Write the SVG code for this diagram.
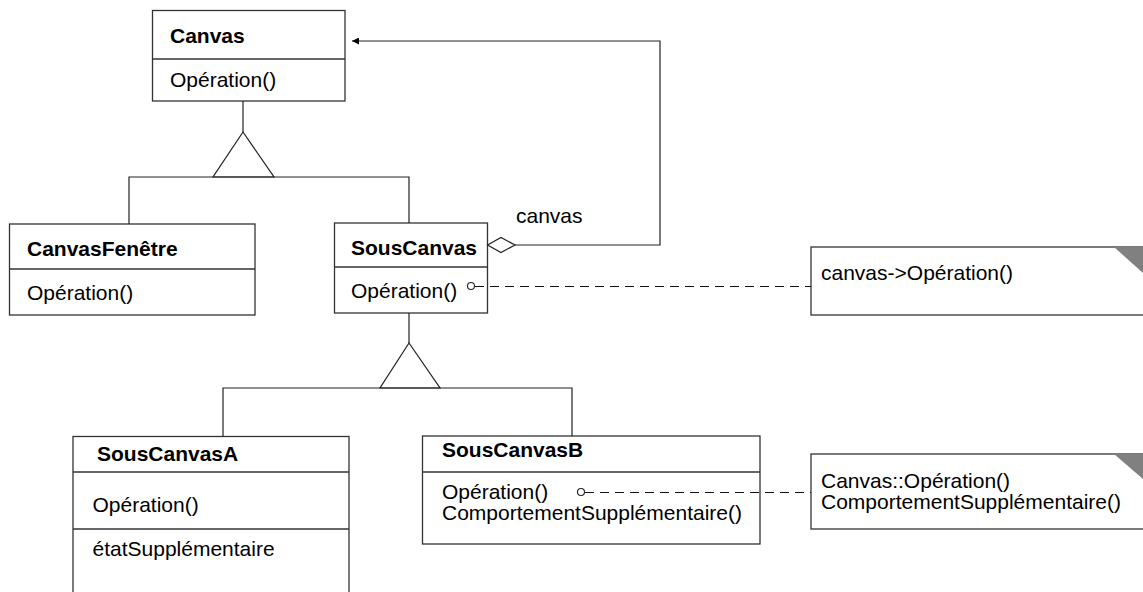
<svg xmlns="http://www.w3.org/2000/svg" width="1143" height="592" viewBox="0 0 1143 592">
<style>
.box{fill:#fff;stroke:#333;stroke-width:1.3}
.ln{fill:none;stroke:#222;stroke-width:1.2}
.dash{fill:none;stroke:#111;stroke-width:1.1;stroke-dasharray:9,6}
.tri{fill:#fff;stroke:#222;stroke-width:1.2}
.circ{fill:#fff;stroke:#222;stroke-width:1.1}
.fold{fill:#808080;stroke:none}
text{font-family:"Liberation Sans",Arial,sans-serif;font-size:21px;fill:#000}
.b{font-weight:bold}
</style>
<defs>
<marker id="arr" markerWidth="8" markerHeight="7" refX="7" refY="3.5" orient="auto" markerUnits="userSpaceOnUse">
<path d="M0,0 L7,3.5 L0,7 Z" fill="#000"/>
</marker>
</defs>
<rect width="1143" height="592" fill="#fff"/>

<g id="Canvas">
<rect class="box" x="152.5" y="10.5" width="192.5" height="90.5"/>
<line class="box" x1="152.5" y1="59" x2="345" y2="59"/>
<text class="b" x="170" y="43">Canvas</text>
<text x="170" y="87">Opération()</text>
</g>

<g id="CanvasFenetre">
<rect class="box" x="9.5" y="224" width="245.5" height="91"/>
<line class="box" x1="9.5" y1="269" x2="255" y2="269"/>
<text class="b" x="27" y="256">CanvasFenêtre</text>
<text x="27" y="300">Opération()</text>
</g>

<g id="SousCanvas">
<rect class="box" x="334.5" y="223" width="153" height="90"/>
<line class="box" x1="334.5" y1="267" x2="487.5" y2="267"/>
<text class="b" x="351" y="255">SousCanvas</text>
<text x="351" y="298">Opération()</text>
</g>

<g id="SousCanvasA">
<rect class="box" x="73" y="436.5" width="276" height="170"/>
<line class="box" x1="73" y1="472" x2="349" y2="472"/>
<line class="box" x1="73" y1="529" x2="349" y2="529"/>
<text class="b" x="97" y="461">SousCanvasA</text>
<text x="92.5" y="512">Opération()</text>
<text x="92.5" y="556">étatSupplémentaire</text>
</g>

<g id="SousCanvasB">
<rect class="box" x="422.5" y="436" width="337.5" height="108"/>
<line class="box" x1="422.5" y1="472" x2="760" y2="472"/>
<text class="b" x="442" y="457">SousCanvasB</text>
<text x="442" y="499">Opération()</text>
<text x="442" y="520">ComportementSupplémentaire()</text>
</g>

<g id="note1">
<rect class="box" x="811" y="247" width="340" height="68"/>
<polygon class="fold" points="1114,247 1143,247 1143,273"/>
<text x="821" y="280">canvas-&gt;Opération()</text>
</g>

<g id="note2">
<rect class="box" x="811" y="454" width="340" height="75"/>
<polygon class="fold" points="1114,454 1143,454 1143,479"/>
<text x="821" y="488">Canvas::Opération()</text>
<text x="821" y="509">ComportementSupplémentaire()</text>
</g>

<g id="connectors">
<line class="ln" x1="243" y1="101" x2="243" y2="132"/>
<polygon class="tri" points="243,132 213,177 274,177"/>
<polyline class="ln" points="129,224 129,177 409,177 409,223"/>
<line class="ln" x1="409" y1="313" x2="409" y2="343"/>
<polygon class="tri" points="409,343 380,388 440,388"/>
<polyline class="ln" points="223,436.5 223,388 572,388 572,436"/>
<polygon class="tri" points="487.5,245 501,237.5 515,245 501,252.5"/>
<polyline class="ln" points="515,245 660,245 660,41 352,41" marker-end="url(#arr)"/>
<text x="516" y="223">canvas</text>
<circle class="circ" cx="471" cy="286" r="3.5"/>
<line class="dash" x1="475" y1="286.5" x2="811" y2="286.5"/>
<circle class="circ" cx="581" cy="492" r="3.5"/>
<line class="dash" x1="585" y1="492.5" x2="811" y2="492.5"/>
</g>
</svg>
